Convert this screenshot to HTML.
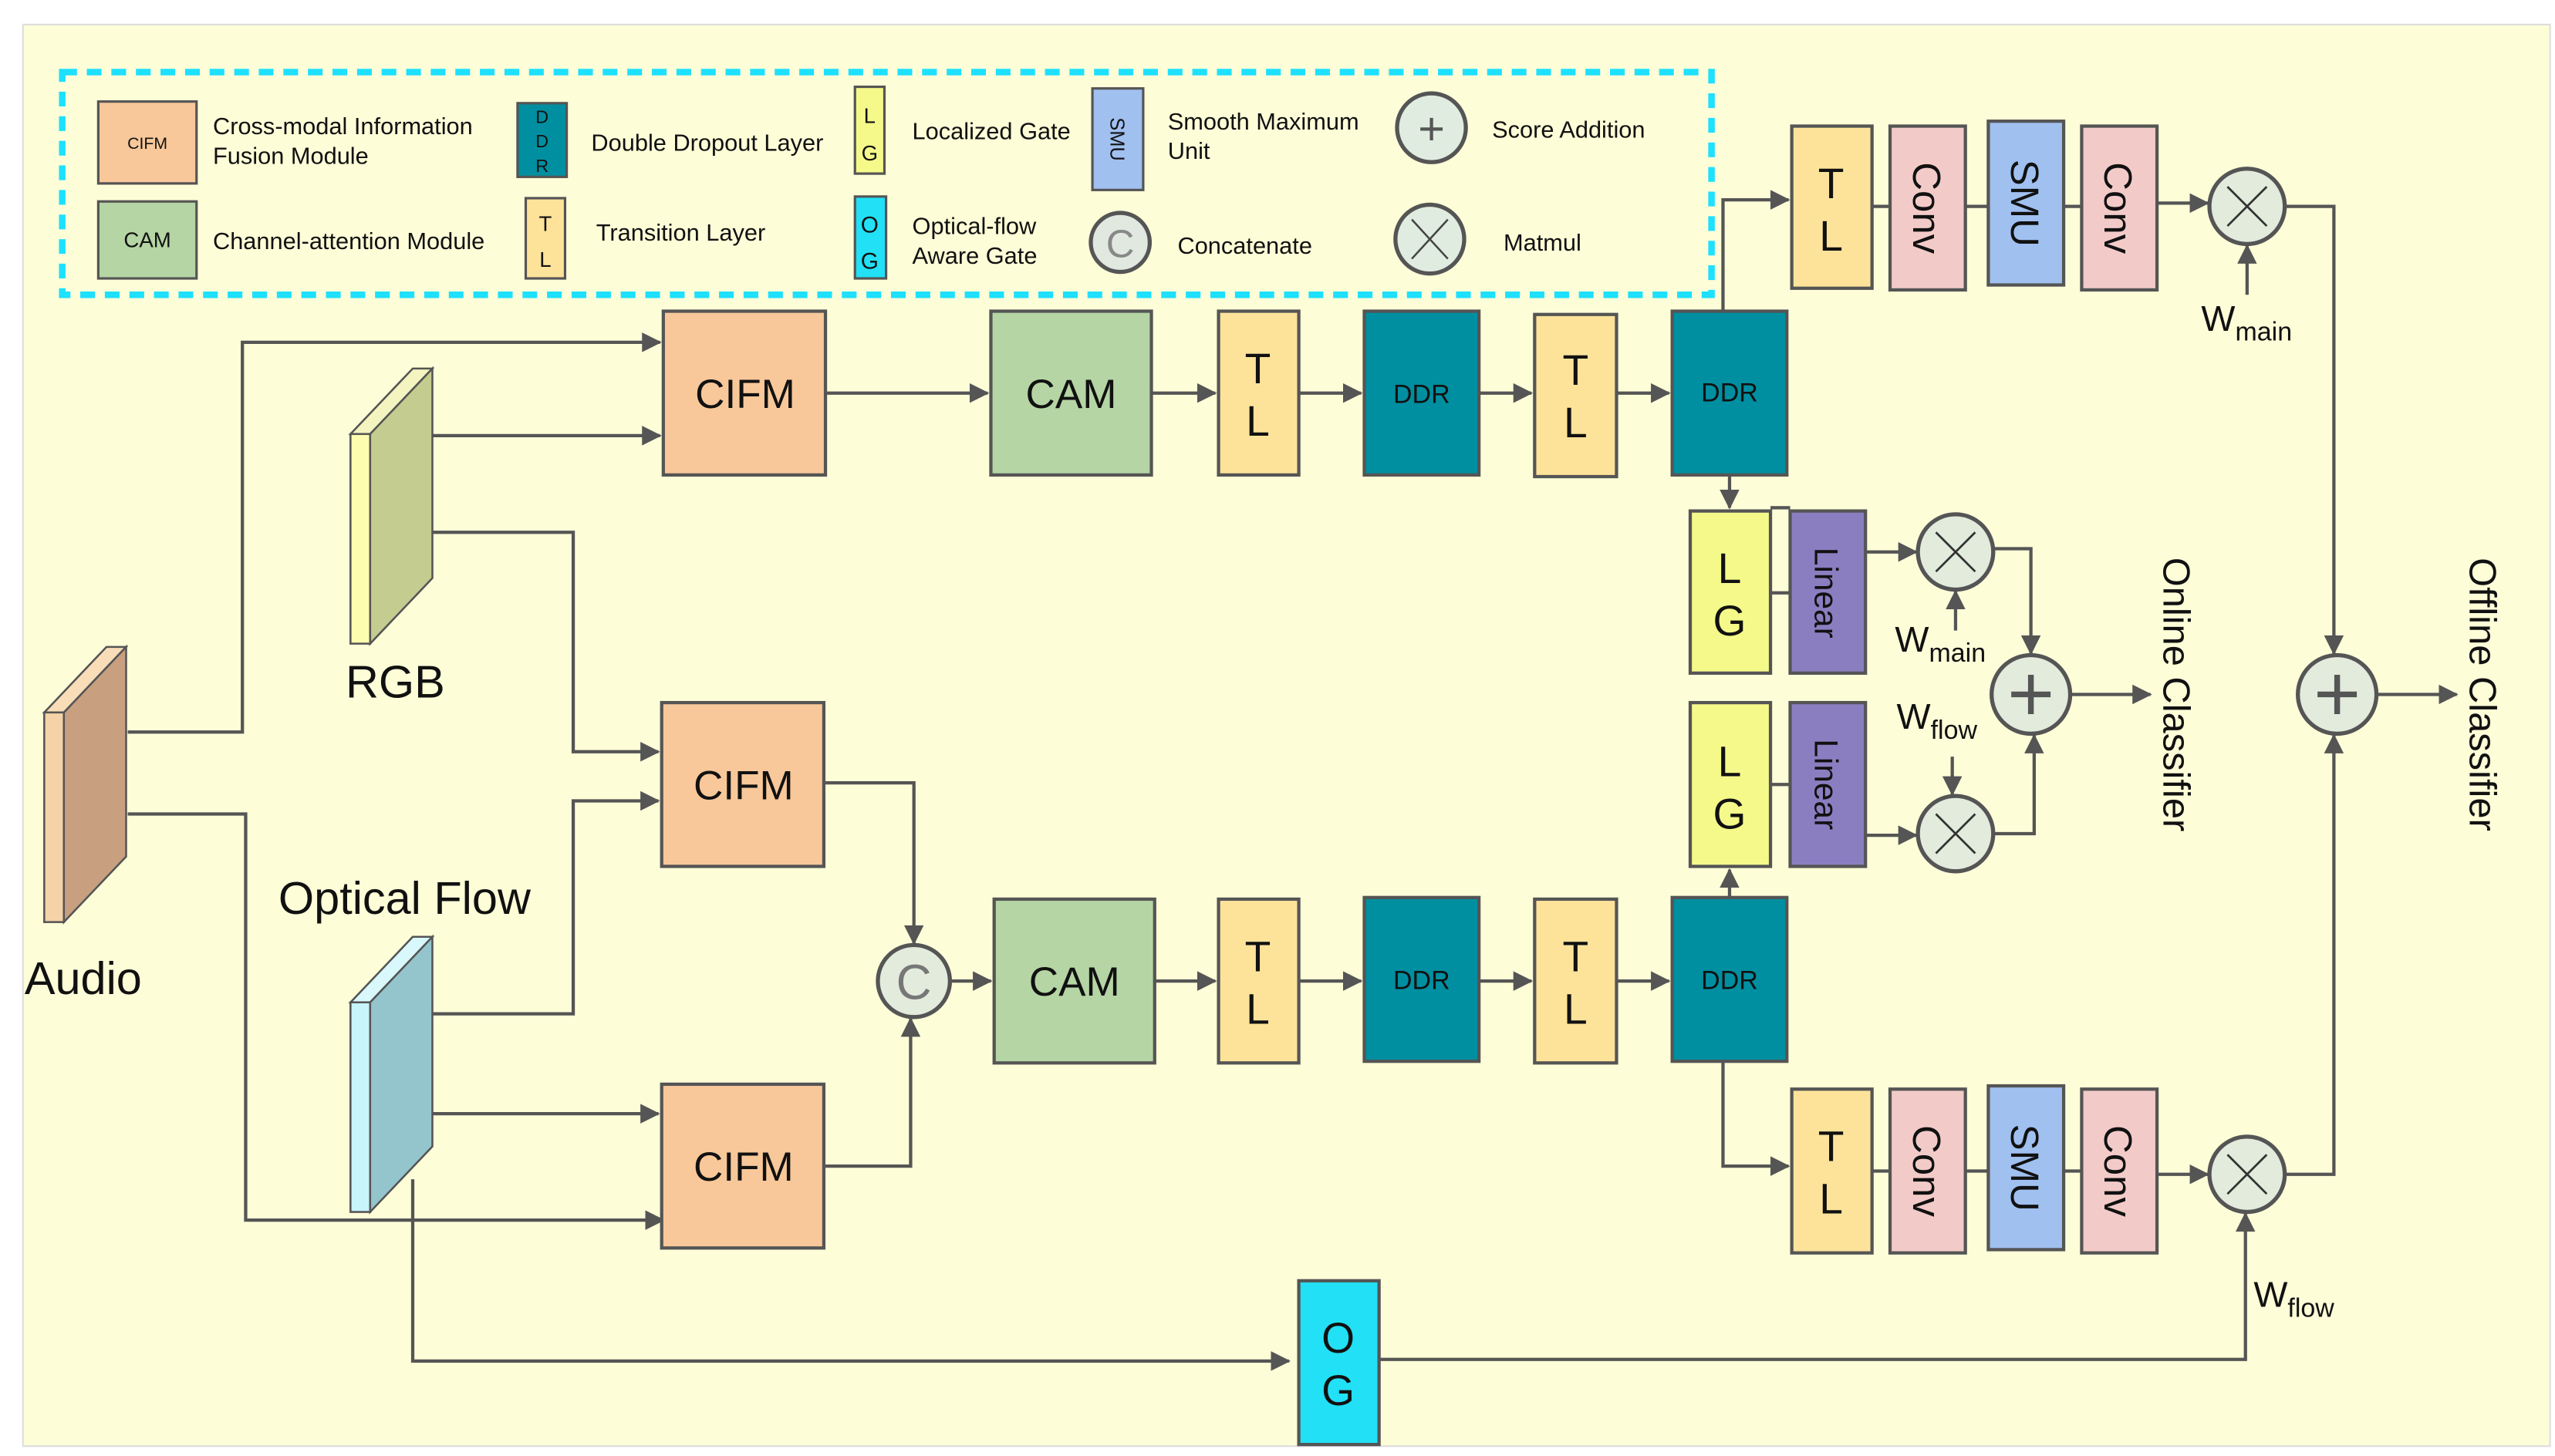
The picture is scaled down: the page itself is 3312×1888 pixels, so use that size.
<!DOCTYPE html>
<html><head><meta charset="utf-8"><style>
html,body{margin:0;padding:0;background:#fff}
svg{display:block}
text{font-family:"Liberation Sans",sans-serif;fill:#111}
</style></head><body>
<svg width="3312" height="1888" viewBox="0 0 1560 889" preserveAspectRatio="none" xmlns="http://www.w3.org/2000/svg">
<defs>
<marker id="a" markerUnits="userSpaceOnUse" markerWidth="12" markerHeight="12" viewBox="0 0 12 12" refX="11" refY="6" orient="auto"><path d="M0,0 L12,6 L0,12 z" fill="#555"/></marker>
</defs>
<rect x="0" y="0" width="1560" height="889" fill="#fff"/>
<rect x="14" y="15" width="1543" height="868" fill="#fdfdd8" stroke="#ddd" stroke-width="1"/>

<!-- legend -->
<rect x="38" y="44" width="1007" height="136" fill="none" stroke="#1ee0ff" stroke-width="4" stroke-dasharray="9,6"/>
<g stroke="#555" stroke-width="1.5">
<rect x="60" y="62" width="60" height="50" fill="#f8c89a"/>
<rect x="60" y="123" width="60" height="47" fill="#b5d5a5"/>
<rect x="316" y="63" width="30" height="45" fill="#008fa0"/>
<rect x="321" y="121" width="24" height="49" fill="#fde39a"/>
<rect x="522" y="53" width="18" height="53" fill="#f5f98a"/>
<rect x="522" y="120" width="19" height="50" fill="#22e0f5"/>
<rect x="667" y="54" width="31" height="62" fill="#a0c0f0"/>
<circle cx="684" cy="148" r="18" fill="#e0e8e0" stroke-width="2.5"/>
<circle cx="874" cy="78" r="21" fill="#e0ece0" stroke-width="2.5"/>
<circle cx="873" cy="146" r="21" fill="#e0ece0" stroke-width="2.5"/>
</g>
<text x="90" y="91" font-size="10" text-anchor="middle">CIFM</text>
<text x="90" y="151" font-size="13" text-anchor="middle">CAM</text>
<text x="331" y="75" font-size="11" text-anchor="middle">D</text>
<text x="331" y="90" font-size="11" text-anchor="middle">D</text>
<text x="331" y="105" font-size="11" text-anchor="middle">R</text>
<text x="333" y="141" font-size="13" text-anchor="middle">T</text>
<text x="333" y="163" font-size="13" text-anchor="middle">L</text>
<text x="531" y="75" font-size="13" text-anchor="middle">L</text>
<text x="531" y="98" font-size="13" text-anchor="middle">G</text>
<text x="531" y="142" font-size="14" text-anchor="middle">O</text>
<text x="531" y="164" font-size="14" text-anchor="middle">G</text>
<text transform="translate(678,85) rotate(90)" font-size="12" text-anchor="middle">SMU</text>
<text x="684" y="157" font-size="24" text-anchor="middle" fill="#777" style="fill:#888">C</text>
<text x="874" y="88" font-size="28" text-anchor="middle" style="fill:#555">+</text>
<path d="M862,134 L884,158 M884,134 L862,158" stroke="#444" stroke-width="1.2"/>
<g font-size="14.5">
<text x="130" y="82">Cross-modal Information</text>
<text x="130" y="100">Fusion Module</text>
<text x="130" y="152">Channel-attention Module</text>
<text x="361" y="92">Double Dropout Layer</text>
<text x="364" y="147">Transition Layer</text>
<text x="557" y="85">Localized Gate</text>
<text x="557" y="143">Optical-flow</text>
<text x="557" y="161">Aware  Gate</text>
<text x="713" y="79">Smooth Maximum</text>
<text x="713" y="97">Unit</text>
<text x="719" y="155">Concatenate</text>
<text x="911" y="84">Score Addition</text>
<text x="918" y="153">Matmul</text>
</g>

<!-- prisms -->
<g stroke="#555" stroke-width="1.2">
<polygon points="214,265 252,225 264,225 226,265" fill="#f4f4c0"/>
<rect x="214" y="265" width="12" height="128" fill="#fdfdb0"/>
<polygon points="226,265 264,225 264,353 226,393" fill="#c5cc90"/>
<polygon points="214,612 252,572 264,572 226,612" fill="#d8f8fb"/>
<rect x="214" y="612" width="12" height="128" fill="#c8f4fb"/>
<polygon points="226,612 264,572 264,700 226,740" fill="#95c5cc"/>
<polygon points="27,435 65,395 77,395 39,435" fill="#f8ddb8"/>
<rect x="27" y="435" width="12" height="128" fill="#f5d2a8"/>
<polygon points="39,435 77,395 77,523 39,563" fill="#c8a080"/>
</g>
<text x="211" y="426" font-size="28">RGB</text>
<text x="170" y="558" font-size="28">Optical Flow</text>
<text x="15" y="607" font-size="28">Audio</text>

<!-- connectors -->
<g stroke="#555" stroke-width="2" fill="none" marker-end="url(#a)">
<path d="M78,447 H148 V209 H403"/>
<path d="M78,497 H150 V745 H405"/>
<path d="M264,266 H403"/>
<path d="M264,325 H350 V459 H402"/>
<path d="M264,619 H350 V489 H402"/>
<path d="M264,680 H402"/>
<path d="M252,720 V831 H787"/>
<path d="M503,478 H558 V576"/>
<path d="M503,712 H556 V622"/>
<path d="M580,599 H605"/>
<path d="M504,240 H603"/>
<path d="M703,240 H742"/>
<path d="M793,240 H831"/>
<path d="M903,240 H935"/>
<path d="M987,240 H1019"/>
<path d="M705,599 H742"/>
<path d="M793,599 H831"/>
<path d="M903,599 H935"/>
<path d="M987,599 H1019"/>
<path d="M1052,190 V122 H1092"/>
<path d="M1056,290 V310"/>
<path d="M1056,548 V531"/>
<path d="M1052,648 V712 H1092"/>
<path d="M1139,337 H1170"/>
<path d="M1194,385 V361"/>
<path d="M1217,335 H1240 V399"/>
<path d="M1139,510 H1170"/>
<path d="M1192,462 V485"/>
<path d="M1217,509 H1242 V449"/>
<path d="M1264,424 H1313"/>
<path d="M1317,124 H1348"/>
<path d="M1372,180 V150"/>
<path d="M1395,126 H1425 V399"/>
<path d="M1317,717 H1348"/>
<path d="M842,830 H1371 V741"/>
<path d="M1395,717 H1425 V449"/>
<path d="M1451,424 H1500"/>
</g>
<g stroke="#555" stroke-width="2">
<path d="M1081,362 H1093 M1081,479 H1093 M1143,126 H1154 M1200,126 H1214 M1260,126 H1271 M1143,715 H1154 M1200,715 H1214 M1260,715 H1271 M1081,310 H1093"/>
</g>

<!-- boxes -->
<g stroke="#555" stroke-width="2">
<rect x="405" y="190" width="99" height="100" fill="#f8c89a"/>
<rect x="605" y="190" width="98" height="100" fill="#b5d5a5"/>
<rect x="744" y="190" width="49" height="100" fill="#fde39a"/>
<rect x="833" y="190" width="70" height="100" fill="#008fa0"/>
<rect x="937" y="192" width="50" height="99" fill="#fde39a"/>
<rect x="1021" y="190" width="70" height="100" fill="#008fa0"/>
<rect x="404" y="429" width="99" height="100" fill="#f8c89a"/>
<rect x="404" y="662" width="99" height="100" fill="#f8c89a"/>
<rect x="607" y="549" width="98" height="100" fill="#b5d5a5"/>
<rect x="744" y="549" width="49" height="100" fill="#fde39a"/>
<rect x="833" y="548" width="70" height="100" fill="#008fa0"/>
<rect x="937" y="549" width="50" height="100" fill="#fde39a"/>
<rect x="1021" y="548" width="70" height="100" fill="#008fa0"/>
<rect x="1032" y="312" width="49" height="99" fill="#f5f98a"/>
<rect x="1093" y="312" width="46" height="99" fill="#8b7ec0"/>
<rect x="1032" y="429" width="49" height="100" fill="#f5f98a"/>
<rect x="1093" y="429" width="46" height="100" fill="#8b7ec0"/>
<rect x="1094" y="77" width="49" height="99" fill="#fde39a"/>
<rect x="1154" y="77" width="46" height="100" fill="#f2cbc8"/>
<rect x="1214" y="74" width="46" height="100" fill="#a0c0f0"/>
<rect x="1271" y="77" width="46" height="100" fill="#f2cbc8"/>
<rect x="1094" y="665" width="49" height="100" fill="#fde39a"/>
<rect x="1154" y="665" width="46" height="100" fill="#f2cbc8"/>
<rect x="1214" y="663" width="46" height="100" fill="#a0c0f0"/>
<rect x="1271" y="665" width="46" height="100" fill="#f2cbc8"/>
<rect x="793" y="782" width="49" height="100" fill="#22e0f5"/>
</g>
<g stroke="#555" stroke-width="2.5" fill="#e2ebdc">
<circle cx="558" cy="599" r="22"/>
<circle cx="1194" cy="337" r="23"/>
<circle cx="1194" cy="509" r="23"/>
<circle cx="1240" cy="424" r="24"/>
<circle cx="1372" cy="126" r="23"/>
<circle cx="1372" cy="717" r="23"/>
<circle cx="1427" cy="424" r="24"/>
</g>
<text x="558" y="610" font-size="30" text-anchor="middle" style="fill:#777">C</text>
<g stroke="#333" stroke-width="1.3">
<path d="M1182,325 L1206,349 M1206,325 L1182,349"/>
<path d="M1182,497 L1206,521 M1206,497 L1182,521"/>
<path d="M1360,114 L1384,138 M1384,114 L1360,138"/>
<path d="M1360,705 L1384,729 M1384,705 L1360,729"/>
</g>
<g stroke="#555" stroke-width="3.5">
<path d="M1240,412 V436 M1228,424 H1252"/>
<path d="M1427,412 V436 M1415,424 H1439"/>
</g>

<!-- box labels -->
<g font-size="25" text-anchor="middle">
<text x="455" y="249">CIFM</text>
<text x="654" y="249">CAM</text>
<text x="454" y="488">CIFM</text>
<text x="454" y="721">CIFM</text>
<text x="656" y="608">CAM</text>
</g>
<g font-size="26" text-anchor="middle">
<text x="768" y="234">T</text><text x="768" y="266">L</text>
<text x="962" y="235">T</text><text x="962" y="267">L</text>
<text x="768" y="593">T</text><text x="768" y="625">L</text>
<text x="962" y="593">T</text><text x="962" y="625">L</text>
<text x="1118" y="121">T</text><text x="1118" y="153">L</text>
<text x="1118" y="709">T</text><text x="1118" y="741">L</text>
<text x="1056" y="356">L</text><text x="1056" y="388">G</text>
<text x="1056" y="474">L</text><text x="1056" y="506">G</text>
<text x="817" y="826">O</text><text x="817" y="858">G</text>
</g>
<g font-size="16" text-anchor="middle">
<text x="868" y="246">DDR</text>
<text x="1056" y="245">DDR</text>
<text x="868" y="604">DDR</text>
<text x="1056" y="604">DDR</text>
</g>
<g font-size="24" text-anchor="middle">
<text transform="translate(1168,127) rotate(90)">Conv</text>
<text transform="translate(1285,127) rotate(90)">Conv</text>
<text transform="translate(1228,124) rotate(90)">SMU</text>
<text transform="translate(1168,715) rotate(90)">Conv</text>
<text transform="translate(1285,715) rotate(90)">Conv</text>
<text transform="translate(1228,713) rotate(90)">SMU</text>
</g>
<g font-size="20" text-anchor="middle">
<text transform="translate(1108,362) rotate(90)">Linear</text>
<text transform="translate(1108,479) rotate(90)">Linear</text>
</g>
<g font-size="23" text-anchor="middle">
<text transform="translate(1321,424) rotate(90)">Online Classifier</text>
<text transform="translate(1508,424) rotate(90)">Offline Classifier</text>
</g>
<g font-size="22">
<text x="1344" y="202">W<tspan font-size="16" dy="6">main</tspan></text>
<text x="1157" y="398">W<tspan font-size="16" dy="6">main</tspan></text>
<text x="1158" y="445">W<tspan font-size="16" dy="6">flow</tspan></text>
<text x="1376" y="798">W<tspan font-size="16" dy="6">flow</tspan></text>
</g>
</svg>
</body></html>
